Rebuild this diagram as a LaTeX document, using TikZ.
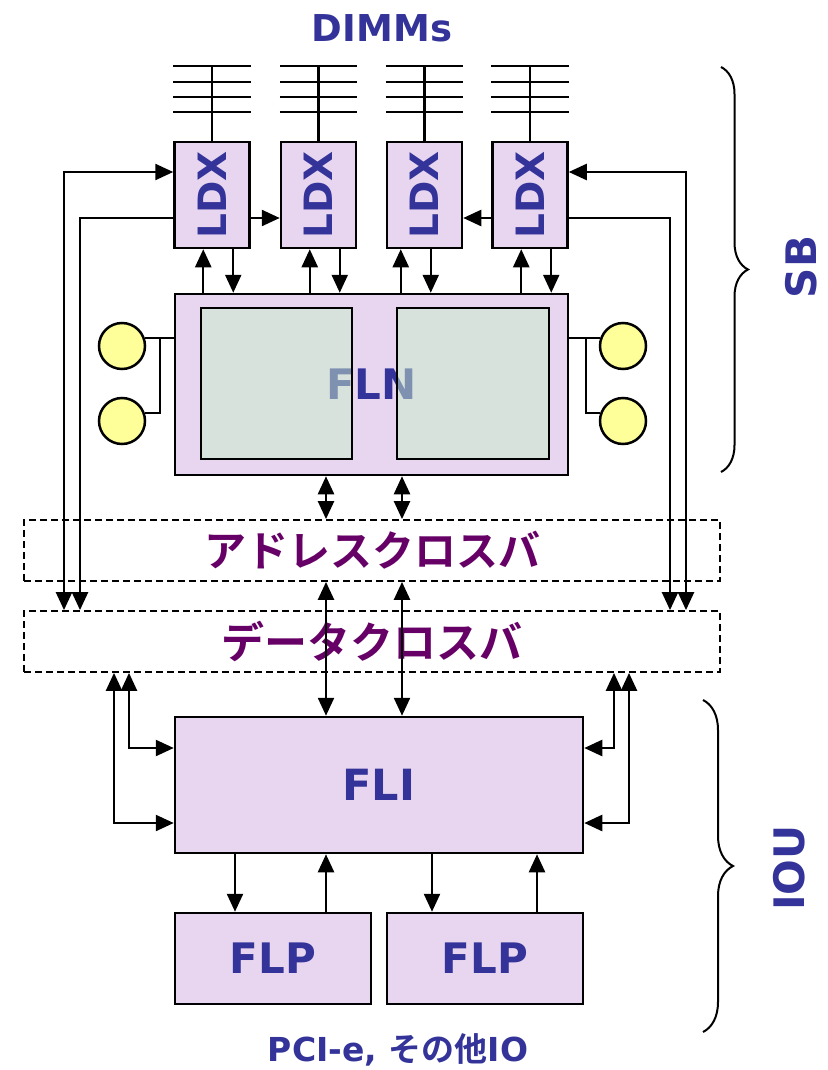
\documentclass[tikz,border=0pt]{standalone}
\usepackage{fontspec}
\setmainfont{DejaVu Sans}
\newfontfamily\cjk{Noto Sans CJK JP Bold}
\usetikzlibrary{arrows.meta,calc,decorations.pathreplacing}
\definecolor{tblue}{HTML}{333399}
\definecolor{tpurple}{HTML}{660066}
\definecolor{lav}{HTML}{E8D6F0}
\definecolor{sqc}{HTML}{CAEFC9}
\definecolor{yel}{HTML}{FFFF99}
\begin{document}
\begin{tikzpicture}[x=1pt,y=-1pt,
  box/.style={draw=black,line width=2.5pt,fill=lav,inner sep=0pt},
  ldxbox/.style={box,minimum width=75pt,minimum height=106pt,text=tblue,font=\bfseries\fontsize{39}{39}\selectfont},
  flpbox/.style={box,minimum width=196pt,minimum height=91pt,text=tblue,font=\bfseries\fontsize{42}{42}\selectfont},
  sqbox/.style={draw=black,line width=2.5pt,fill=sqc,fill opacity=0.5,draw opacity=1,minimum width=151pt,minimum height=151pt,inner sep=0pt},
  circ/.style={circle,draw=black,line width=2.5pt,fill=yel,minimum size=46pt,inner sep=0pt},
  ln/.style={line width=2.4pt},
  arr/.style={line width=2.4pt,-{Triangle[length=18pt,width=16pt]}},
  both/.style={line width=2.4pt,{Triangle[length=18pt,width=16pt]}-{Triangle[length=18pt,width=16pt]}},
  xbar/.style={draw=black,dash pattern=on 7pt off 4pt,line width=1.8pt,minimum width=696pt,minimum height=61pt,inner sep=0pt,text=tpurple,font=\cjk\fontsize{42}{42}\selectfont},
  lbl/.style={text=tblue,inner sep=0pt},
  brc/.style={line width=2pt,decorate}
]
\useasboundingbox (0,0) rectangle (827,1070);

% helper coordinates
\foreach \v in {66,82,97,112,172,218,748,823}{\coordinate (Y\v) at (0,\v);}
\foreach \v in {64,80,670,686,114,129,614,629,160,586,326,402,235,432,537}{\coordinate (X\v) at (\v,0);}

% title
\node[lbl,font=\bfseries\fontsize{37}{37}\selectfont] (dimms) at (382,28) {DIMMs};

% LDX boxes
\node[ldxbox] (l1) at (212,195) {\rotatebox{90}{LDX}};
\node[ldxbox] (l2) at (318.5,195) {\rotatebox{90}{LDX}};
\node[ldxbox] (l3) at (424.5,195) {\rotatebox{90}{LDX}};
\node[ldxbox] (l4) at (530,195) {\rotatebox{90}{LDX}};

% FLN
\node[box,minimum width=393pt,minimum height=181pt,text=tblue,font=\bfseries\fontsize{42}{42}\selectfont] (fln) at (371.5,384.5) {FLN};
\node[sqbox] (s1) at (276.5,383.5) {};
\node[sqbox,minimum width=152pt] (s2) at (473,383.5) {};

% DIMM lines
\foreach \n in {l1,l2,l3,l4}{
  \foreach \v in {66,82,97,112}{\draw[ln] (\n.west |- Y\v) -- (\n.east |- Y\v);}
  \draw[ln] (\n.north) -- (\n.north |- Y66);
}

% LDX <-> FLN
\foreach \n/\u/\d in {l1/30/60,l2/30/60,l3/15/45,l4/30/60}{
  \path (\n.south west) ++(\u,0) coordinate (a\n);
  \path (\n.south west) ++(\d,0) coordinate (b\n);
  \draw[arr] (a\n |- fln.north) -- (a\n);
  \draw[arr] (b\n) -- (b\n |- fln.north);
}

% LDX chain
\draw[arr] (l1.east |- Y218) -- (l2.west |- Y218);
\draw[arr] (l4.west |- Y218) -- (l3.east |- Y218);

% circles
\node[circ] (c1) at (122,346) {};
\node[circ] (c2) at (122,421) {};
\node[circ] (c3) at (623,346) {};
\node[circ] (c4) at (623,421) {};
\draw[ln] (c1.20) -- (fln.west |- c1.20);
\draw[ln] (c2.20) -| (X160 |- c1.20);
\draw[ln] (c3.160) -- (fln.east |- c3.160);
\draw[ln] (c4.160) -| (X586 |- c3.160);

% crossbars
\node[xbar] (ax) at (372,550.5) {アドレスクロスバ};
\node[xbar,font=\cjk\fontsize{43}{43}\selectfont] (dx) at (372,641.5) {データクロスバ};

% LDX <-> data crossbar
\draw[both] (l1.west |- Y172) -| (X64 |- dx.north);
\draw[arr] (l1.west |- Y218) -| (X80 |- dx.north);
\draw[both] (l4.east |- Y172) -| (X686 |- dx.north);
\draw[arr] (l4.east |- Y218) -| (X670 |- dx.north);

% FLI
\node[box,minimum width=408pt,minimum height=136pt,text=tblue,font=\bfseries\fontsize{43}{43}\selectfont] (fli) at (379,785) {FLI};

% FLN <-> address, address <-> FLI
\draw[both] (X326 |- fln.south) -- (X326 |- ax.north);
\draw[both] (X402 |- fln.south) -- (X402 |- ax.north);
\draw[both] (X326 |- ax.south) -- (X326 |- fli.north);
\draw[both] (X402 |- ax.south) -- (X402 |- fli.north);

% FLI <-> data crossbar
\draw[both] (fli.west |- Y748) -| (X129 |- dx.south);
\draw[both] (fli.west |- Y823) -| (X114 |- dx.south);
\draw[both] (fli.east |- Y748) -| (X614 |- dx.south);
\draw[both] (fli.east |- Y823) -| (X629 |- dx.south);

% FLP
\node[flpbox] (p1) at (273,958.5) {FLP};
\node[flpbox] (p2) at (485,958.5) {FLP};
\draw[arr] (X235 |- fli.south) -- (X235 |- p1.north);
\draw[arr] (X326 |- p1.north) -- (X326 |- fli.south);
\draw[arr] (X432 |- fli.south) -- (X432 |- p2.north);
\draw[arr] (X537 |- p2.north) -- (X537 |- fli.south);

% bottom label
\node[lbl,font=\fontsize{33}{33}\selectfont] (pci) at (398,1050) {{\bfseries PCI-e, }{\cjk その他}{\bfseries IO}};

% braces
\draw[brc,decoration={brace,amplitude=27pt}] (721,67) -- (721,472);
\draw[brc,decoration={brace,amplitude=30pt}] (703,700) -- (703,1032);
\node[lbl,rotate=90,font=\bfseries\fontsize{42}{42}\selectfont] (sb) at (801,267) {SB};
\node[lbl,rotate=90,font=\bfseries\fontsize{42}{42}\selectfont] (iou) at (789,868) {IOU};
\end{tikzpicture}
\end{document}
